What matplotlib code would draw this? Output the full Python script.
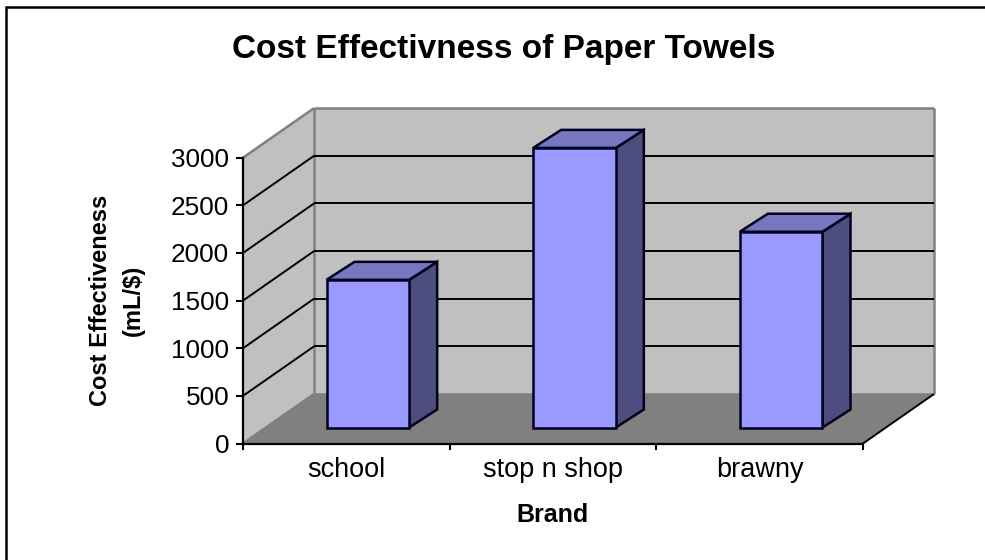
import matplotlib
matplotlib.use("Agg")
from matplotlib import pyplot as plt
from matplotlib.patches import Polygon
from matplotlib.lines import Line2D

plt.rcParams['font.family'] = ['Liberation Sans', 'DejaVu Sans']

brands = ["school", "stop n shop", "brawny"]
cost_eff = [1550, 2935, 2055]
y_ticks = [0, 500, 1000, 1500, 2000, 2500, 3000]

W, H = 985, 560
fig = plt.figure(figsize=(W / 100, H / 100), dpi=100)
ax = fig.add_axes([243 / W, (H - 443.5) / H, 620 / W, 285.8 / H])
ax.set_xlim(0, 3)
ax.set_ylim(0, 3000)

# how far the back wall is shifted from the front plane, in data units
px_x = 3 / 620
px_y = 3000 / 285.8
depth_x = 71 * px_x
depth_y = 49.5 * px_y


def pt(x, y, d=0.0):
    return (x + d * depth_x, y + d * depth_y)


def face(points, color, edge="none", lw=0.0, z=1):
    ax.add_patch(Polygon(points, closed=True, facecolor=color, edgecolor=edge,
                         linewidth=lw, zorder=z, clip_on=False, joinstyle="miter"))


def seg(a, b, **kw):
    ax.plot([a[0], b[0]], [a[1], b[1]], clip_on=False, solid_capstyle="butt", **kw)


# walls and floor
face([pt(0, 0, 1), pt(3, 0, 1), pt(3, 3000, 1), pt(0, 3000, 1)], "#c0c0c0")
face([pt(0, 0), pt(0, 0, 1), pt(0, 3000, 1), pt(0, 3000)], "#c0c0c0")
face([pt(0, 0), pt(3, 0), pt(3, 0, 1), pt(0, 0, 1)], "#808080")

# grey wall edges
for a, b in [(pt(0, 0, 1), pt(0, 3000, 1)),
             (pt(0, 3000, 1), pt(3, 3000, 1)),
             (pt(3, 3000, 1), pt(3, 0, 1)),
             (pt(0, 0, 1), pt(3, 0, 1)),
             (pt(0, 3000), pt(0, 3000, 1)),
             (pt(0, 0), pt(0, 0, 1))]:
    seg(a, b, color="#808080", lw=1.8, zorder=2)

# gridlines on back wall and side wall
for v in y_ticks[1:-1]:
    seg(pt(0, v, 1), pt(3, v, 1), color="black", lw=1.4, zorder=3)
    seg(pt(0, v), pt(0, v, 1), color="black", lw=1.4, zorder=3)

# floor right edge
seg(pt(3, 0), pt(3, 0, 1), color="black", lw=1.4, zorder=3)

# 3d columns, front face sits 16px up the floor, 28x18px deep
bar_w = 0.4
bar_x0 = 21.5 * px_x
bar_y0 = 16 * px_y
bar_dx = 28 * px_x
bar_dy = 18 * px_y
for i, val in enumerate(cost_eff):
    l = i + 0.5 - bar_w / 2 + bar_x0
    r = i + 0.5 + bar_w / 2 + bar_x0
    base = bar_y0
    top = val + bar_y0
    style = dict(edge="#000020", lw=1.8, z=5)
    face([(r, base), (r + bar_dx, base + bar_dy), (r + bar_dx, top + bar_dy), (r, top)],
         "#4d4d80", **style)
    face([(l, top), (r, top), (r + bar_dx, top + bar_dy), (l + bar_dx, top + bar_dy)],
         "#7777bf", **style)
    face([(l, base), (r, base), (r, top), (l, top)], "#9999ff", **style)

for s in ["top", "right"]:
    ax.spines[s].set_visible(False)
for s in ["left", "bottom"]:
    ax.spines[s].set_linewidth(1.6)
    ax.spines[s].set_zorder(4)
ax.patch.set_visible(False)

ax.set_yticks(y_ticks)
ax.set_xticks([0, 1, 2, 3])
ax.set_xticklabels([])
ax.set_xticks([0.5, 1.5, 2.5], minor=True)
ax.set_xticklabels(brands, minor=True)
ax.tick_params(axis="y", length=5, width=1.5, labelsize=18.8, pad=5)
ax.tick_params(axis="x", which="major", length=4, width=1.5)
ax.tick_params(axis="x", which="minor", length=0, labelsize=19.5, pad=10)

fig.text(503.5 / W, 1 - 58 / H, "Cost Effectivness of Paper Towels", fontsize=24,
         fontweight="bold", ha="center", va="baseline")
fig.text(552 / W, 1 - 515 / H, "Brand", fontsize=18, fontweight="bold", ha="center", va="center")
fig.text(116.5 / W, 1 - 300 / H, "Cost Effectiveness\n(mL/$)", fontsize=17, fontweight="bold",
         rotation=90, ha="center", va="center", linespacing=1.55, multialignment="center")

# chart frame: only top and left are in the picture
fig.add_artist(Line2D([5.5 / W, 5.5 / W, 1], [0, 1 - 7 / H, 1 - 7 / H], color="black", lw=1.8,
                      solid_joinstyle="miter"))

plt.savefig("out.png", dpi=100)
